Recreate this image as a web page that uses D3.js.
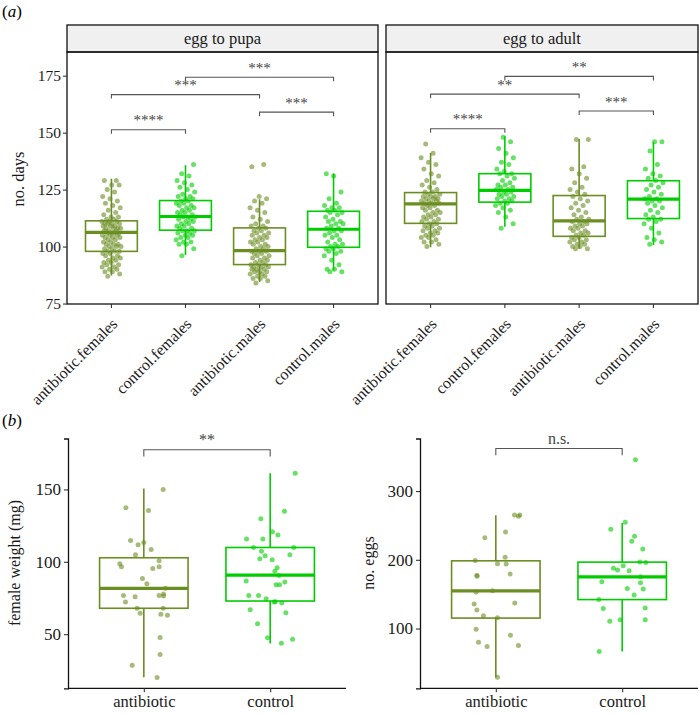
<!DOCTYPE html>
<html><head><meta charset="utf-8">
<script src="https://cdn.jsdelivr.net/npm/d3@7"></script>
<style>body{margin:0;background:#fff}svg{display:block}text{font-family:"Liberation Serif","Times New Roman",serif}</style>
</head><body><svg id="c" width="699" height="714"></svg>
<script>
// ---------- DATA ----------
const devCats = ["antibiotic.females","control.females","antibiotic.males","control.males"];
const devFacets = ["egg to pupa","egg to adult"];
const devTicks = [75,100,125,150,175];
// box stats: [lowerWhisker, q1, median, q3, upperWhisker]
const pupaBox = [[87.3,97.9,106.2,111.3,129.8],[96.3,107.2,113.2,120.2,135.7],[84.4,92.1,98.2,108.2,120.8],[89.5,99.7,107.6,115.5,132.1]];
const adultBox = [[99.7,110.2,118.7,123.7,141.1],[108.7,119.5,124.7,132.0,148.4],[99.0,104.5,111.3,122.4,147.2],[100.7,112.3,120.8,128.9,145.8]];
const pupaAbxF = [87,88,89,89,90,90,91,91,92,92,93,93,94,94,95,95,96,96,97,97,98,98,98,99,99,100,100,100,101,101,101,102,102,103,103,104,104,104,105,105,105,106,106,106,106,107,107,107,108,108,108,108,109,109,109,110,110,110,110,111,111,111,112,112,113,113,114,115,116,117,118,119,120,121,122,124,125,127,127,129,129];
const pupaCtlF = [96,99,101,101,102,102,103,104,104,105,105,106,106,107,107,107,108,108,109,109,110,110,111,111,112,112,113,113,113,114,114,115,115,116,116,117,117,118,118,119,119,120,120,121,121,122,122,123,124,125,126,127,128,129,131,132,136];
const pupaAbxM = [84,85,86,86,87,87,88,88,89,89,89,90,90,90,91,91,91,92,92,92,93,93,94,94,95,95,96,96,97,97,98,98,98,99,99,100,100,101,101,102,102,103,103,104,104,105,105,106,106,107,107,108,108,109,109,110,111,112,113,115,116,117,119,120,121,122,135,136];
const pupaCtlM = [89,89,90,90,92,94,96,97,98,98,99,99,100,100,101,101,102,103,104,105,105,106,107,107,108,108,109,110,110,111,111,112,113,114,115,115,116,116,117,117,118,119,121,124,131,132];
const adultAbxF = [100,101,102,102,103,104,104,105,105,106,106,107,107,108,108,109,109,110,110,111,111,112,112,113,113,114,114,115,115,116,116,117,117,118,118,119,119,119,120,120,120,121,121,121,122,122,122,123,123,124,124,125,126,127,128,129,131,132,134,136,137,139,141,145];
const adultCtlF = [108,110,113,115,116,117,118,119,119,120,120,121,121,122,122,123,123,124,124,125,125,126,126,127,127,128,129,130,131,132,132,133,134,136,137,139,141,143,146,148];
const adultAbxM = [99,99,100,100,101,101,102,102,103,103,104,104,105,105,106,106,107,107,108,108,109,109,110,110,111,111,112,112,113,114,115,116,117,118,119,120,121,122,123,124,125,126,128,130,132,134,135,147,147];
const adultCtlM = [101,102,103,104,106,108,110,111,112,112,113,114,115,116,117,118,119,120,120,121,121,122,123,124,125,126,127,128,129,130,131,132,134,136,142,146,146];
// significance: [fromCat, toCat, yPosition, label]
const pupaSig = [[0,1,151.3,"****"],[0,2,166.7,"***"],[2,3,159.0,"***"],[1,3,174.3,"***"]];
const adultSig = [[0,1,151.7,"****"],[0,2,166.9,"**"],[2,3,159.5,"***"],[1,3,174.7,"**"]];

const trtCats = ["antibiotic","control"];
const weightTicks = [50,100,150];
const weightBox = [[20.3,67.9,81.7,102.8,150.6],[43.6,72.9,90.8,109.9,161.2]];
const weightAbx = [150,137.4,135.5,114.8,111.7,113.4,104.8,108.5,98.6,96.6,100.7,96.6,95.4,88.5,84.8,81.7,76.8,75.9,72.2,76.8,77.7,76.4,67.9,67.9,64.4,63.7,63,47.7,36,28.6,20.1];
const weightAbxJit = [0.153,-0.142,0.037,-0.105,-0.045,0,-0.066,0.058,-0.19,-0.177,0.121,0.121,0.071,-0.011,0.024,0.171,-0.161,-0.069,-0.145,0.121,0.156,0.156,-0.053,0.153,-0.029,0.135,0.187,0.129,0.129,-0.092,0.105];
const weightCtl = [161.2,135,129.8,120.8,118.5,115.7,115.7,109.8,109.8,107.3,104.1,104.8,102.1,101.4,95.9,93.4,90.6,86.7,86,84.1,84.1,76.8,76.8,74.5,72.2,72.4,71.5,66.9,64.8,57.2,47.6,46.5,43.7];
const weightCtlJit = [0.198,0.113,-0.074,0.018,0.061,-0.187,-0.058,-0.132,0.187,-0.069,-0.04,0.156,-0.082,0.016,0.055,0.037,0.069,-0.19,0.116,0.047,0.074,-0.169,-0.092,-0.032,0.032,0.04,0.092,-0.158,0.124,-0.1,-0.021,0.177,0.089];
const weightSig = [[0,1,177.4,"**"]];

const eggTicks = [100,200,300];
const eggBox = [[29,115.2,154.7,198.5,264.7],[66.4,142.1,175.2,196.6,253.6]];
const eggAbx = [265,265,263.5,231.9,240.6,198.8,203.6,194.4,193.9,177.4,175.9,179.3,153,155,137,135.5,126.8,118.5,115.6,99,90.3,80.1,73.7,75.2,29];
const eggAbxJit = [0.148,0.19,0.179,-0.087,0.077,-0.163,0.074,0.013,0.082,-0.15,-0.148,0.113,-0.156,-0.026,0.15,-0.171,-0.15,-0.098,0.013,-0.156,0.116,-0.137,-0.069,0.179,0.013];
const eggCtl = [345.7,254.7,244.5,234.3,227,215.8,187.6,185.2,191.5,184.2,196.8,195.9,168.1,175.4,166.7,158.4,157.4,148.7,142.3,129.2,129.7,110.7,112.7,112.7,66.4];
const eggCtlJit = [0.105,0.024,-0.09,0.098,0.076,0.163,-0.069,-0.037,0.008,0.055,0.14,0.187,-0.161,0.145,0.145,0.04,0.166,0.095,-0.185,-0.15,0.182,-0.098,-0.016,0.182,-0.182];
const eggSig = [[0,1,361.9,"n.s."]];

// ---------- STYLE ----------
const COL = {antibiotic:"#6B8E23", control:"#00CD00"};
const colFor = c => c.startsWith("antibiotic") ? COL.antibiotic : COL.control;
const svg = d3.select("#c");

function goldenJit(n, w){ return d3.range(n).map(i => (((i*0.6180339887)+0.31)%1 - 0.5)*2*w); }

function drawGroup(g, x, y, step, cat, stats, vals, jit){
  const c = colFor(cat), cx = x(cat), hw = step*0.35;
  const [lw,q1,md,q3,uw] = stats;
  g.append("line").attr("x1",cx).attr("x2",cx).attr("y1",y(uw)).attr("y2",y(q3)).attr("stroke",c).attr("stroke-width",1.6);
  g.append("line").attr("x1",cx).attr("x2",cx).attr("y1",y(q1)).attr("y2",y(lw)).attr("stroke",c).attr("stroke-width",1.6);
  g.append("rect").attr("x",cx-hw).attr("y",y(q3)).attr("width",2*hw).attr("height",y(q1)-y(q3)).attr("fill","none").attr("stroke",c).attr("stroke-width",1.6);
  g.append("line").attr("x1",cx-hw).attr("x2",cx+hw).attr("y1",y(md)).attr("y2",y(md)).attr("stroke",c).attr("stroke-width",3.2);
  g.selectAll(null).data(vals).enter().append("circle")
    .attr("cx",(d,i)=>cx+jit[i]*step).attr("cy",d=>y(d)).attr("r",2.5)
    .attr("fill",c).attr("fill-opacity",0.6);
}

function drawSig(g, x, y, sig, tipPx, fs){
  sig.forEach(([a,b,v,lab])=>{
    const x1=x(a), x2=x(b), yy=y(v);
    g.append("path").attr("d",`M${x1},${yy+tipPx}V${yy}H${x2}V${yy+tipPx}`).attr("fill","none").attr("stroke","#555").attr("stroke-width",1.1);
    g.append("text").attr("x",(x1+x2)/2).attr("y",yy-4.5).attr("text-anchor","middle").attr("font-size",fs).attr("fill","#444").text(lab);
  });
}

// ---------- PANEL (a) ----------
svg.append("text").attr("x",2).attr("y",17).attr("font-size",17).html('(<tspan font-style="italic">a</tspan>)');

const yTop = d3.scaleLinear().domain([74.8,185.4]).range([304,52]);
const facetX = [[67,378],[386,698]];
const facetBox = [pupaBox, adultBox];
const facetVals = [[pupaAbxF,pupaCtlF,pupaAbxM,pupaCtlM],[adultAbxF,adultCtlF,adultAbxM,adultCtlM]];
const facetSig = [pupaSig, adultSig];

facetX.forEach(([x0,x1],f)=>{
  const g = svg.append("g");
  const x = d3.scalePoint().domain(devCats).range([x0,x1]).padding(0.6);
  const step = x.step();
  g.append("rect").attr("x",x0).attr("y",25).attr("width",x1-x0).attr("height",27).attr("fill","#f0f0f0").attr("stroke","#111").attr("stroke-width",1.3);
  g.append("text").attr("x",(x0+x1)/2).attr("y",44).attr("text-anchor","middle").attr("font-size",16.5).attr("fill","#1a1a1a").text(devFacets[f]);
  devCats.forEach((cat,i)=>{
    const vals = facetVals[f][i];
    drawGroup(g, x, yTop, step, cat, facetBox[f][i], vals, goldenJit(vals.length, 0.13));
  });
  drawSig(g, i=>x(devCats[i]), yTop, facetSig[f], 4, 15);
  g.append("rect").attr("x",x0).attr("y",52).attr("width",x1-x0).attr("height",252).attr("fill","none").attr("stroke","#111").attr("stroke-width",1.3);
  devCats.forEach(cat=>{
    g.append("line").attr("x1",x(cat)).attr("x2",x(cat)).attr("y1",304).attr("y2",308).attr("stroke","#333").attr("stroke-width",1.1);
    g.append("text").attr("transform",`translate(${x(cat)+7},${325}) rotate(-45)`).attr("text-anchor","end").attr("font-size",16).attr("fill","#1a1a1a").text(cat);
  });
  if(f===0){
    const ax = g.append("g").attr("transform",`translate(${x0},0)`).call(d3.axisLeft(yTop).tickValues(devTicks).tickSize(4).tickPadding(2));
    ax.select(".domain").remove();
    ax.selectAll("line").attr("stroke","#333").attr("stroke-width",1.1);
    ax.selectAll("text").attr("font-size",15.5).attr("fill","#1a1a1a").attr("font-family","Liberation Serif");
    g.append("text").attr("transform",`translate(24,${179}) rotate(-90)`).attr("text-anchor","middle").attr("font-size",16.5).attr("fill","#1a1a1a").text("no. days");
  }
});

// ---------- PANEL (b) ----------
svg.append("text").attr("x",2).attr("y",426).attr("font-size",17).html('(<tspan font-style="italic">b</tspan>)');

function bottomPanel(x0,x1,yDom,ticks,box,vals,jits,sig,title,titleX){
  const g = svg.append("g");
  const y = d3.scaleLinear().domain(yDom).range([688.3,438.5]);
  const x = d3.scalePoint().domain(trtCats).range([x0,x1]).padding(0.6);
  const step = x.step();
  trtCats.forEach((cat,i)=>drawGroup(g,x,y,step,cat,box[i],vals[i],jits[i]));
  drawSig(g, i=>x(trtCats[i]), y, sig, 6.7, 16);
  const ay = g.append("g").attr("transform",`translate(${x0},0)`).call(d3.axisLeft(y).tickValues(ticks).tickSize(4).tickPadding(3));
  ay.select(".domain").attr("stroke","#111").attr("stroke-width",1.3);
  ay.selectAll("line").attr("stroke","#333").attr("stroke-width",1.1);
  ay.selectAll("text").attr("font-size",17).attr("fill","#1a1a1a").attr("font-family","Liberation Serif");
  const ax = g.append("g").attr("transform",`translate(0,688.3)`).call(d3.axisBottom(x).tickSize(4).tickPadding(3));
  ax.select(".domain").attr("stroke","#111").attr("stroke-width",1.3).attr("d",`M${x0},0H${x1}`);
  ax.selectAll("line").attr("stroke","#333").attr("stroke-width",1.1);
  ax.selectAll("text").attr("font-size",16.5).attr("fill","#1a1a1a").attr("font-family","Liberation Serif");
  g.append("text").attr("transform",`translate(${titleX},563) rotate(-90)`).attr("text-anchor","middle").attr("font-size",16).attr("fill","#1a1a1a").text(title);
}
bottomPanel(68,346,[12.6,185.2],weightTicks,weightBox,[weightAbx,weightCtl],[weightAbxJit,weightCtlJit],weightSig,"female weight (mg)",20);
bottomPanel(420,698,[13,376.5],eggTicks,eggBox,[eggAbx,eggCtl],[eggAbxJit,eggCtlJit],eggSig,"no. eggs",374);
</script></body></html>
